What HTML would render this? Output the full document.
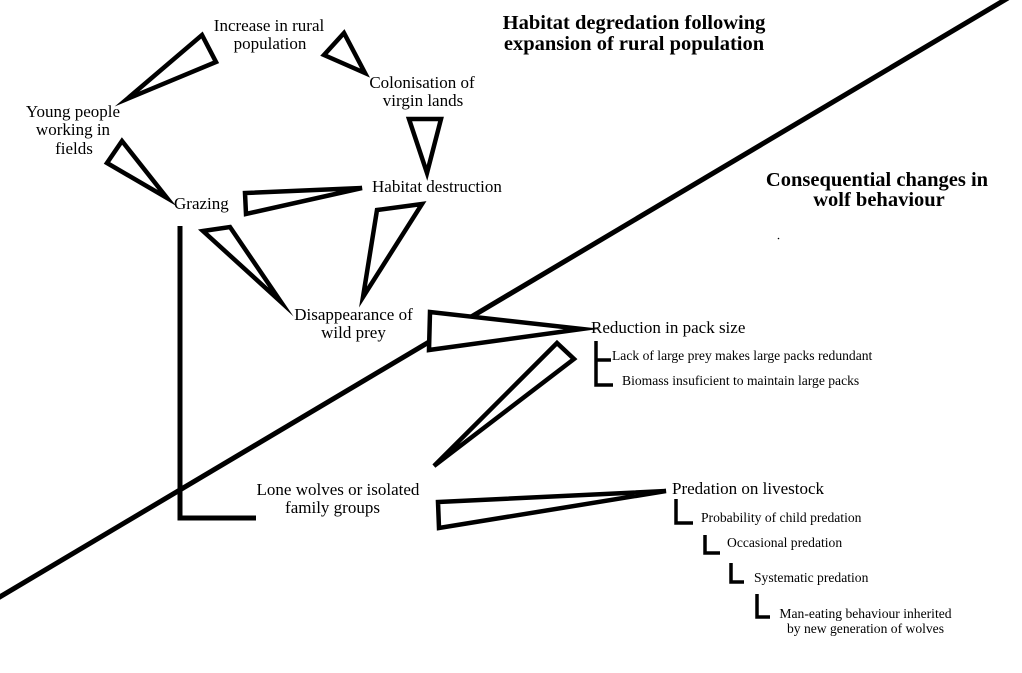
<!DOCTYPE html>
<html><head><meta charset="utf-8"><style>
html,body{margin:0;padding:0;background:#fff;}
svg{display:block;}
text{font-family:"Liberation Serif","Times New Roman",serif;fill:#000;}
.m{font-size:17px;}
.s{font-size:13.6px;}
.h{font-size:20.5px;font-weight:bold;}
</style></head><body>
<svg width="1022" height="673" viewBox="0 0 1022 673" xmlns="http://www.w3.org/2000/svg">
<rect width="1022" height="673" fill="#fff"/>
<!-- main diagonal -->
<line x1="-2" y1="598" x2="1008" y2="-2" stroke="#000" stroke-width="5"/>
<!-- grazing L -->
<polyline points="180,226 180,518 256,518" fill="none" stroke="#000" stroke-width="5"/>
<g fill="#fff" stroke="#000" stroke-width="4.5" stroke-linejoin="miter" stroke-miterlimit="10">
<polygon points="202,35 216,62 127,99"/>
<polygon points="344,33 324,55 365,73"/>
<polygon points="409,119 441,119 427,173"/>
<polygon points="122,141 107,163 167,198"/>
<polygon points="362,188 245,193 246,214"/>
<polygon points="377,210 422,204 363,297"/>
<polygon points="203,231 230,227 281,302"/>
<polygon points="430,312 429,350 582,329"/>
<polygon points="557,343 574,359 434,466"/>
<polygon points="438,502 439,528 666,491"/>
</g>
<!-- brackets -->
<g fill="none" stroke="#000" stroke-width="3.5">
<polyline points="596,341 596,385 613,385"/>
<line x1="596" y1="360" x2="611" y2="360"/>
<polyline points="676,499 676,523 693,523"/>
<polyline points="705,535 705,553 720,553"/>
<polyline points="731,563 731,582 744,582"/>
<polyline points="757,594 757,617 770,617"/>
</g>
<circle cx="778.5" cy="238.5" r="0.8" fill="#000"/>
<!-- headings -->
<text class="h" x="634" y="29" text-anchor="middle">Habitat degredation following</text>
<text class="h" x="634" y="50" text-anchor="middle">expansion of rural population</text>
<text class="h" x="877" y="186" text-anchor="middle">Consequential changes in</text>
<text class="h" x="879" y="206" text-anchor="middle">wolf behaviour</text>
<!-- labels -->
<text class="m" x="269" y="31" text-anchor="middle">Increase in rural</text>
<text class="m" x="270" y="49" text-anchor="middle">population</text>
<text class="m" x="422" y="88" text-anchor="middle">Colonisation of</text>
<text class="m" x="423" y="106" text-anchor="middle">virgin lands</text>
<text class="m" x="73" y="117" text-anchor="middle">Young people</text>
<text class="m" x="73" y="135" text-anchor="middle">working in</text>
<text class="m" x="74" y="154" text-anchor="middle">fields</text>
<text class="m" x="174" y="209">Grazing</text>
<text class="m" x="372" y="192">Habitat destruction</text>
<text class="m" x="353.5" y="320" text-anchor="middle">Disappearance of</text>
<text class="m" x="353.5" y="338" text-anchor="middle">wild prey</text>
<text class="m" x="338" y="495" text-anchor="middle">Lone wolves or isolated</text>
<text class="m" x="332.5" y="513" text-anchor="middle">family groups</text>
<text class="m" x="591" y="333">Reduction in pack size</text>
<text class="s" x="612" y="360">Lack of large prey makes large packs redundant</text>
<text class="s" x="622" y="385">Biomass insuficient to maintain large packs</text>
<text class="m" x="672" y="494">Predation on livestock</text>
<text class="s" x="701" y="522">Probability of child predation</text>
<text class="s" x="727" y="547">Occasional predation</text>
<text class="s" x="754" y="582">Systematic predation</text>
<text class="s" x="865.5" y="618" text-anchor="middle">Man-eating behaviour inherited</text>
<text class="s" x="865.5" y="633" text-anchor="middle">by new generation of wolves</text>
</svg>
</body></html>
